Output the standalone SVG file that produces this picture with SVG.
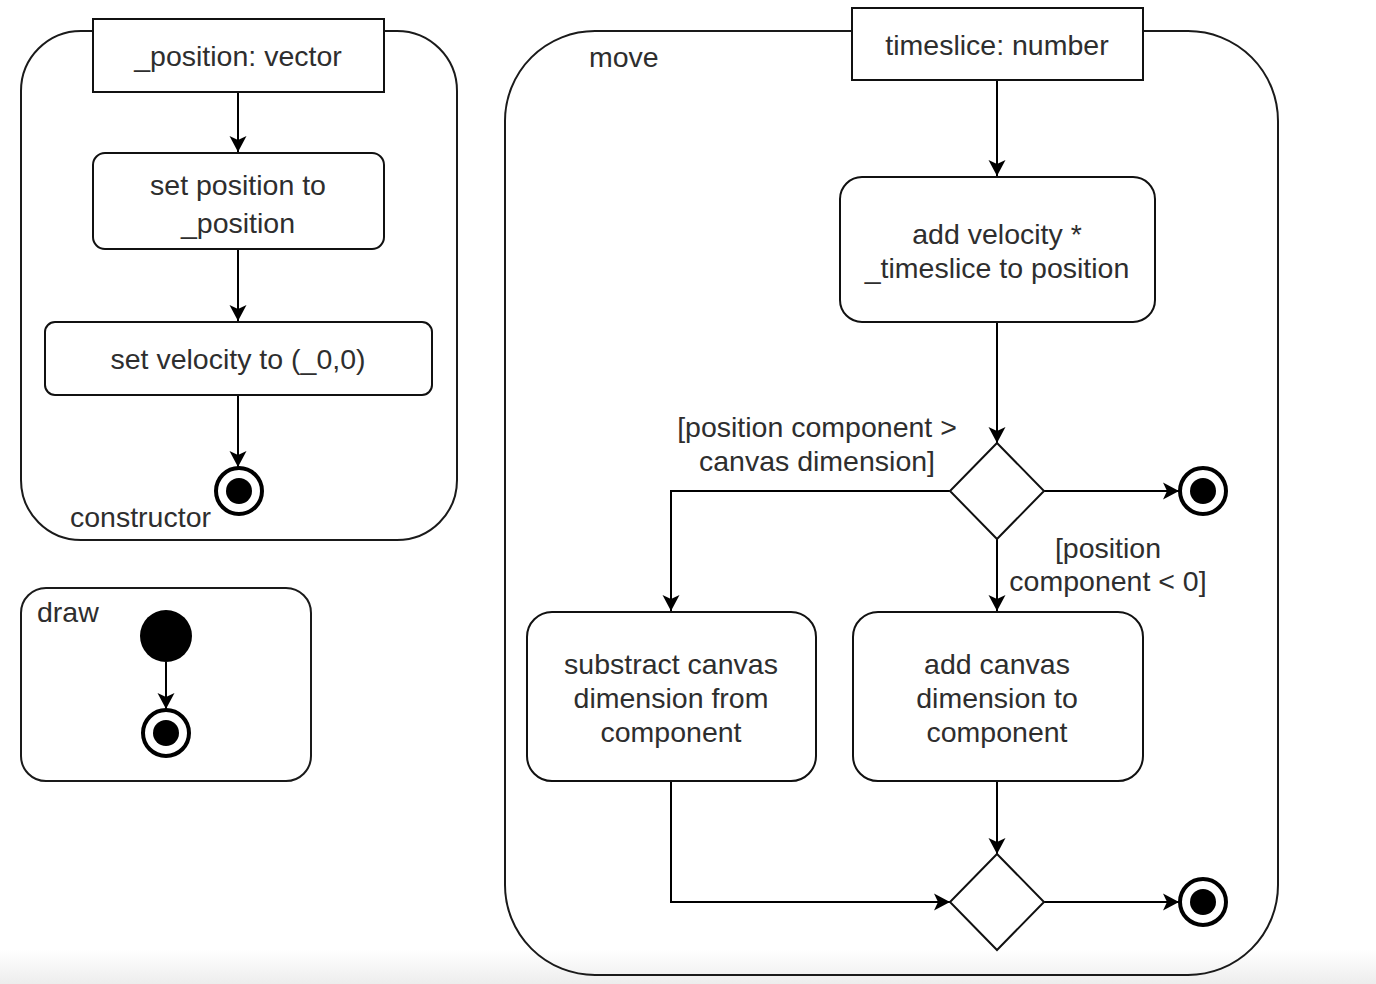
<svg xmlns="http://www.w3.org/2000/svg" width="1376" height="984" viewBox="0 0 1376 984">
<defs>
  <linearGradient id="bottomFade" x1="0" y1="0" x2="0" y2="1">
    <stop offset="0" stop-color="#ffffff"/>
    <stop offset="1" stop-color="#ededed"/>
  </linearGradient>
  <marker id="arrow" markerUnits="userSpaceOnUse" markerWidth="18" markerHeight="20" refX="17" refY="10" orient="auto">
    <path d="M1,1.5 L17,10 L1,18.5 L5,10 Z" fill="#000"/>
  </marker>
  <style>
    text { font-family: "Liberation Sans", Arial, sans-serif; font-size: 28.5px; fill: #2e2e2e; }
    .mid { text-anchor: middle; }
    .frame { fill: none; stroke: #1a1a1a; stroke-width: 2; }
    .box { fill: #fff; stroke: #111; stroke-width: 2; }
    .conn { fill: none; stroke: #000; stroke-width: 2; marker-end: url(#arrow); }
    .ring { fill: #fff; stroke: #000; stroke-width: 4; }
    .dot { fill: #000; }
  </style>
</defs>
<rect x="0" y="950" width="1376" height="34" fill="url(#bottomFade)"/>

<g id="constructor-frame">
  <rect class="frame" x="21" y="31" width="436" height="509" rx="60" ry="60"/>
  <text x="70" y="527">constructor</text>
</g>
<g id="draw-frame">
  <rect class="frame" x="21" y="588" width="290" height="193" rx="25" ry="25"/>
  <text x="37" y="622">draw</text>
</g>
<g id="move-frame">
  <rect class="frame" x="505" y="31" width="773" height="944" rx="90" ry="90"/>
  <text x="589" y="67">move</text>
</g>

<g id="connectors">
  <line class="conn" x1="238" y1="92" x2="238" y2="152"/>
  <line class="conn" x1="238" y1="249" x2="238" y2="321"/>
  <line class="conn" x1="238" y1="395" x2="238" y2="467"/>
  <line class="conn" x1="166" y1="662" x2="166" y2="709"/>
  <line class="conn" x1="997" y1="80" x2="997" y2="176"/>
  <line class="conn" x1="997" y1="322" x2="997" y2="443"/>
  <line class="conn" x1="1044" y1="491" x2="1179" y2="491"/>
  <polyline class="conn" points="950,491 671,491 671,611"/>
  <line class="conn" x1="997" y1="539" x2="997" y2="611"/>
  <polyline class="conn" points="671,781 671,902 950,902"/>
  <line class="conn" x1="997" y1="781" x2="997" y2="854"/>
  <line class="conn" x1="1044" y1="902" x2="1179" y2="902"/>
  <text class="mid" x="817" y="437">[position component &gt;</text>
  <text class="mid" x="817" y="471">canvas dimension]</text>
  <text class="mid" x="1108" y="558">[position</text>
  <text class="mid" x="1108" y="591">component &lt; 0]</text>
</g>

<g id="param-position">
  <rect class="box" x="93" y="19" width="291" height="73"/>
  <text class="mid" x="238" y="66">_position: vector</text>
</g>
<g id="set-position">
  <rect class="box" x="93" y="153" width="291" height="96" rx="12" ry="12"/>
  <text class="mid" x="238" y="195">set position to</text>
  <text class="mid" x="238" y="233">_position</text>
</g>
<g id="set-velocity">
  <rect class="box" x="45" y="322" width="387" height="73" rx="10" ry="10"/>
  <text class="mid" x="238" y="369">set velocity to (_0,0)</text>
</g>
<g id="constructor-final">
  <circle class="ring" cx="239" cy="491" r="23"/>
  <circle class="dot" cx="239" cy="491" r="13"/>
</g>

<g id="draw-initial">
  <circle class="dot" cx="166" cy="636" r="26"/>
</g>
<g id="draw-final">
  <circle class="ring" cx="166" cy="733" r="23"/>
  <circle class="dot" cx="166" cy="733" r="13"/>
</g>

<g id="param-timeslice">
  <rect class="box" x="852" y="8" width="291" height="72"/>
  <text class="mid" x="997" y="55">timeslice: number</text>
</g>
<g id="add-velocity">
  <rect class="box" x="840" y="177" width="315" height="145" rx="22" ry="22"/>
  <text class="mid" x="997" y="244">add velocity *</text>
  <text class="mid" x="997" y="278">_timeslice to position</text>
</g>
<g id="decision">
  <polygon class="box" points="997,443 1044,491 997,539 950,491"/>
</g>
<g id="move-final-1">
  <circle class="ring" cx="1203" cy="491" r="23"/>
  <circle class="dot" cx="1203" cy="491" r="13"/>
</g>
<g id="substract">
  <rect class="box" x="527" y="612" width="289" height="169" rx="25" ry="25"/>
  <text class="mid" x="671" y="674">substract canvas</text>
  <text class="mid" x="671" y="708">dimension from</text>
  <text class="mid" x="671" y="742">component</text>
</g>
<g id="add-canvas">
  <rect class="box" x="853" y="612" width="290" height="169" rx="25" ry="25"/>
  <text class="mid" x="997" y="674">add canvas</text>
  <text class="mid" x="997" y="708">dimension to</text>
  <text class="mid" x="997" y="742">component</text>
</g>
<g id="merge">
  <polygon class="box" points="997,854 1044,902 997,950 950,902"/>
</g>
<g id="move-final-2">
  <circle class="ring" cx="1203" cy="902" r="23"/>
  <circle class="dot" cx="1203" cy="902" r="13"/>
</g>
</svg>
